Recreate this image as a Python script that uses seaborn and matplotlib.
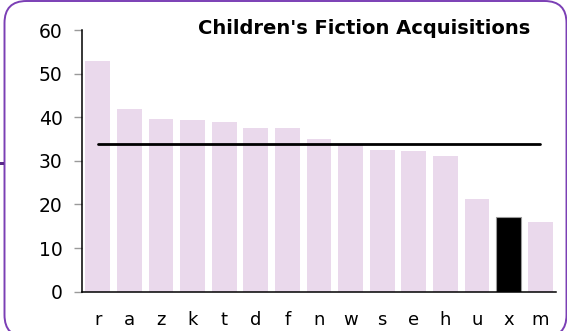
import matplotlib
matplotlib.use("Agg")
import matplotlib.pyplot as plt
from matplotlib.patches import FancyBboxPatch, Rectangle
from matplotlib.transforms import IdentityTransform
import seaborn as sns
import pandas as pd

categories = ["r", "a", "z", "k", "t", "d", "f", "n", "w", "s", "e", "h", "u", "x", "m"]
values = [53.0, 41.9, 39.7, 39.4, 38.9, 37.6, 37.5, 35.0, 33.6, 32.5, 32.3, 31.1, 21.2, 17.2, 16.0]
highlight = "x"
average = 33.9
title = "Children's Fiction Acquisitions"
yticks = [0, 10, 20, 30, 40, 50, 60]

sns.set_theme(style="white")
plt.rcParams["font.family"] = ["DejaVu Sans"]

df = pd.DataFrame({"cat": categories, "val": values})
bar_colors = {c: ("#000000" if c == highlight else "#ead9ec") for c in categories}

fig = plt.figure(figsize=(5.67, 3.31), dpi=100)
ax = fig.add_axes([82 / 567, 1 - 291.7 / 331, (556 - 82) / 567, (291.7 - 30) / 331])

sns.barplot(data=df, x="cat", y="val", hue="cat", palette=bar_colors,
            order=categories, hue_order=categories, legend=False,
            width=0.79, saturation=1, ax=ax)
for patch, c in zip(ax.patches, categories):
    if c == highlight:
        patch.set_edgecolor("#9a9a9a")
        patch.set_linewidth(0.8)
    else:
        patch.set_edgecolor("none")

ax.plot([categories[0], categories[-1]], [average, average], color="black", lw=2, zorder=5)

ax.set_ylim(0, 60)
ax.set_xlim(-0.5, len(categories) - 0.5)
ax.set_yticks(yticks)
ax.set_yticklabels([str(t) for t in yticks], fontsize=13.5, color="black")
ax.tick_params(axis="y", left=True, length=6, width=1, color="#9a9a9a", pad=8,
               labelcolor="black")
ax.tick_params(axis="x", bottom=False, labelsize=13, pad=8, labelcolor="black")
ax.set_xlabel("")
ax.set_ylabel("")
for side in ["top", "right"]:
    ax.spines[side].set_visible(False)
for side in ["left", "bottom"]:
    ax.spines[side].set_color("black")
    ax.spines[side].set_linewidth(1.1)

fig.text(530 / 567, 1 - 29 / 331, title, ha="right", va="center",
         fontsize=14, fontweight="bold", color="black")

# rounded frame around the chart
frame = FancyBboxPatch((4.5 + 22, -6 + 22), 562 - 44, 336 - 44,
                       boxstyle="round,pad=22", transform=IdentityTransform(),
                       fill=False, edgecolor="#7b3fb5", linewidth=1.4)
fig.patches.append(frame)
fig.patches.append(Rectangle((0, 331 - 165), 4, 3, transform=IdentityTransform(),
                             facecolor="#5a2a8a", edgecolor="none"))

fig.savefig("out.png", dpi=100)
